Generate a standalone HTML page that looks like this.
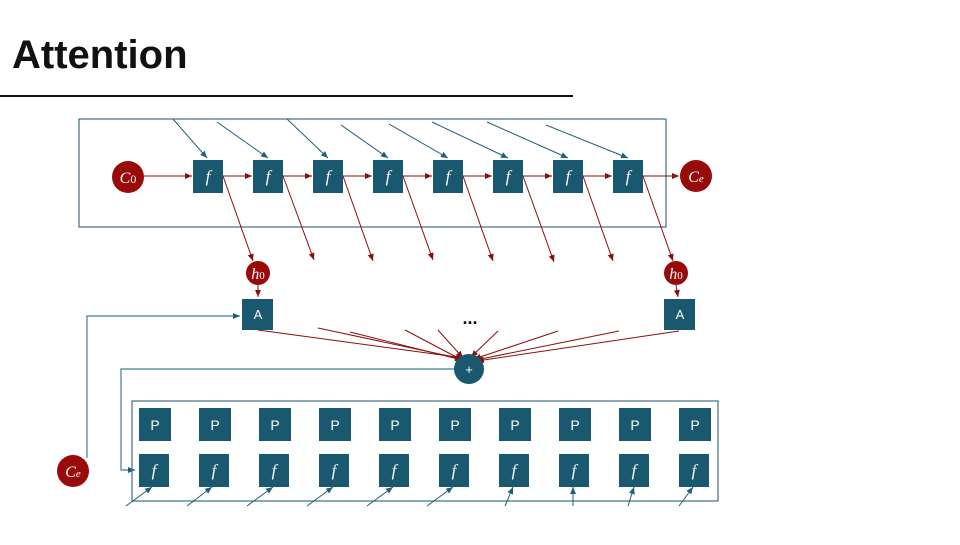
<!DOCTYPE html>
<html><head><style>
body{margin:0;width:960px;height:540px;background:#fff;overflow:hidden;font-family:"Liberation Sans",sans-serif}
</style></head><body>
<svg width="960" height="540" viewBox="0 0 960 540" xmlns="http://www.w3.org/2000/svg">
<defs>
<marker id="ab" markerWidth="8" markerHeight="8" refX="7" refY="4" orient="auto" markerUnits="userSpaceOnUse"><path d="M0,1 L7,4 L0,7z" fill="#1f5f78"/></marker>
<marker id="ar" markerWidth="8" markerHeight="8" refX="7" refY="4" orient="auto" markerUnits="userSpaceOnUse"><path d="M0,1 L7,4 L0,7z" fill="#8b0e0e"/></marker>
</defs>
<text x="12" y="68" font-size="40" font-weight="bold" fill="#111">Attention</text>
<line x1="0" y1="96" x2="573" y2="96" stroke="#111" stroke-width="2"/>

<rect x="79" y="119" width="587" height="108" fill="none" stroke="#3f6f85" stroke-width="1.2"/>
<g stroke="#1f5f78" stroke-width="1" marker-end="url(#ab)">
<line x1="173" y1="119" x2="207" y2="158"/>
<line x1="217" y1="122" x2="268" y2="158"/>
<line x1="287" y1="119" x2="328" y2="158"/>
<line x1="341" y1="125" x2="388" y2="158"/>
<line x1="389" y1="124" x2="448" y2="158"/>
<line x1="432" y1="122" x2="508" y2="158"/>
<line x1="487" y1="122" x2="568" y2="158"/>
<line x1="546" y1="125" x2="628" y2="158"/>
</g>
<g stroke="#8b0e0e" stroke-width="1" marker-end="url(#ar)">
<line x1="144" y1="176" x2="192" y2="176"/>
<line x1="223" y1="176" x2="252" y2="176"/>
<line x1="283" y1="176" x2="312" y2="176"/>
<line x1="343" y1="176" x2="372" y2="176"/>
<line x1="403" y1="176" x2="432" y2="176"/>
<line x1="463" y1="176" x2="492" y2="176"/>
<line x1="523" y1="176" x2="552" y2="176"/>
<line x1="583" y1="176" x2="612" y2="176"/>
<line x1="643" y1="176" x2="679" y2="176"/>
<line x1="223" y1="176" x2="253" y2="261"/>
<line x1="283" y1="176" x2="314" y2="260"/>
<line x1="343" y1="176" x2="373" y2="261"/>
<line x1="403" y1="176" x2="433" y2="260"/>
<line x1="463" y1="176" x2="493" y2="261"/>
<line x1="523" y1="176" x2="554" y2="262"/>
<line x1="583" y1="176" x2="613" y2="261"/>
<line x1="643" y1="176" x2="673" y2="261"/>
<line x1="258" y1="285" x2="258" y2="297"/>
<line x1="676" y1="285" x2="678" y2="297"/>
<line x1="258" y1="330" x2="464" y2="358"/>
<line x1="318" y1="328" x2="463" y2="359"/>
<line x1="350" y1="332" x2="462" y2="360"/>
<line x1="405" y1="330" x2="462" y2="360"/>
<line x1="438" y1="330" x2="463" y2="358"/>
<line x1="498" y1="331" x2="471" y2="357"/>
<line x1="558" y1="331" x2="474" y2="359"/>
<line x1="619" y1="331" x2="476" y2="360"/>
<line x1="679" y1="331" x2="477" y2="361"/>
</g>
<g fill="#1a5870">
<rect x="193" y="160" width="30" height="33"/><rect x="253" y="160" width="30" height="33"/>
<rect x="313" y="160" width="30" height="33"/><rect x="373" y="160" width="30" height="33"/>
<rect x="433" y="160" width="30" height="33"/><rect x="493" y="160" width="30" height="33"/>
<rect x="553" y="160" width="30" height="33"/><rect x="613" y="160" width="30" height="33"/>
<rect x="242" y="299" width="31" height="31"/><rect x="664" y="299" width="31" height="31"/>
<circle cx="469" cy="369" r="15"/>
</g>
<g fill="#fff" font-family="Liberation Serif" font-style="italic" font-size="17" text-anchor="middle">
<text x="208" y="182">f</text><text x="268" y="182">f</text><text x="328" y="182">f</text><text x="388" y="182">f</text>
<text x="448" y="182">f</text><text x="508" y="182">f</text><text x="568" y="182">f</text><text x="628" y="182">f</text>
</g>
<g fill="#fff" font-size="13" text-anchor="middle">
<text x="258" y="319">A</text><text x="680" y="319">A</text><text x="469" y="374">+</text>
</g>
<g fill="#990a0a">
<circle cx="128" cy="177" r="16"/><circle cx="696" cy="176" r="16"/>
<circle cx="258" cy="273" r="12"/><circle cx="676" cy="273" r="12"/>
<circle cx="73" cy="471" r="16"/>
</g>
<g fill="#fff" font-family="Liberation Serif" font-style="italic" font-size="16" text-anchor="middle">
<text x="128" y="183">C<tspan font-style="normal" font-size="12">0</tspan></text>
<text x="696" y="182">C<tspan font-size="11">e</tspan></text>
<text x="258" y="279">h<tspan font-style="normal" font-size="11">0</tspan></text>
<text x="676" y="279">h<tspan font-style="normal" font-size="11">0</tspan></text>
<text x="73" y="477">C<tspan font-size="11">e</tspan></text>
</g>
<text x="470" y="324" font-size="18" font-weight="bold" text-anchor="middle" fill="#111">...</text>

<g stroke="#3f7f98" stroke-width="1.2" fill="none">
<polyline points="87,458 87,316 240,316" marker-end="url(#ab)"/>
<polyline points="454,369 121,369 121,470 135,470" marker-end="url(#ab)"/>
</g>
<rect x="132" y="401" width="586" height="100" fill="none" stroke="#3f6f85" stroke-width="1.2"/>
<g fill="#1a5870">
<rect x="139" y="408" width="32" height="33"/><rect x="199" y="408" width="32" height="33"/>
<rect x="259" y="408" width="32" height="33"/><rect x="319" y="408" width="32" height="33"/>
<rect x="379" y="408" width="32" height="33"/><rect x="439" y="408" width="32" height="33"/>
<rect x="499" y="408" width="32" height="33"/><rect x="559" y="408" width="32" height="33"/>
<rect x="619" y="408" width="32" height="33"/><rect x="679" y="408" width="32" height="33"/>
<rect x="139" y="454" width="30" height="33"/><rect x="199" y="454" width="30" height="33"/>
<rect x="259" y="454" width="30" height="33"/><rect x="319" y="454" width="30" height="33"/>
<rect x="379" y="454" width="30" height="33"/><rect x="439" y="454" width="30" height="33"/>
<rect x="499" y="454" width="30" height="33"/><rect x="559" y="454" width="30" height="33"/>
<rect x="619" y="454" width="30" height="33"/><rect x="679" y="454" width="30" height="33"/>
</g>
<g fill="#fff" font-size="14" text-anchor="middle">
<text x="155" y="430">P</text><text x="215" y="430">P</text><text x="275" y="430">P</text><text x="335" y="430">P</text><text x="395" y="430">P</text>
<text x="455" y="430">P</text><text x="515" y="430">P</text><text x="575" y="430">P</text><text x="635" y="430">P</text><text x="695" y="430">P</text>
</g>
<g fill="#fff" font-family="Liberation Serif" font-style="italic" font-size="17" text-anchor="middle">
<text x="154" y="476">f</text><text x="214" y="476">f</text><text x="274" y="476">f</text><text x="334" y="476">f</text><text x="394" y="476">f</text>
<text x="454" y="476">f</text><text x="514" y="476">f</text><text x="574" y="476">f</text><text x="634" y="476">f</text><text x="694" y="476">f</text>
</g>
<g stroke="#1f5f78" stroke-width="1" marker-end="url(#ab)">
<line x1="126" y1="506" x2="152" y2="487"/><line x1="187" y1="506" x2="212" y2="487"/>
<line x1="247" y1="506" x2="273" y2="487"/><line x1="307" y1="506" x2="333" y2="487"/>
<line x1="367" y1="506" x2="393" y2="487"/><line x1="427" y1="506" x2="453" y2="487"/>
<line x1="505" y1="506" x2="513" y2="487"/><line x1="573" y1="506" x2="573" y2="487"/>
<line x1="628" y1="506" x2="634" y2="487"/><line x1="679" y1="506" x2="693" y2="487"/>
</g>
</svg>
</body></html>
